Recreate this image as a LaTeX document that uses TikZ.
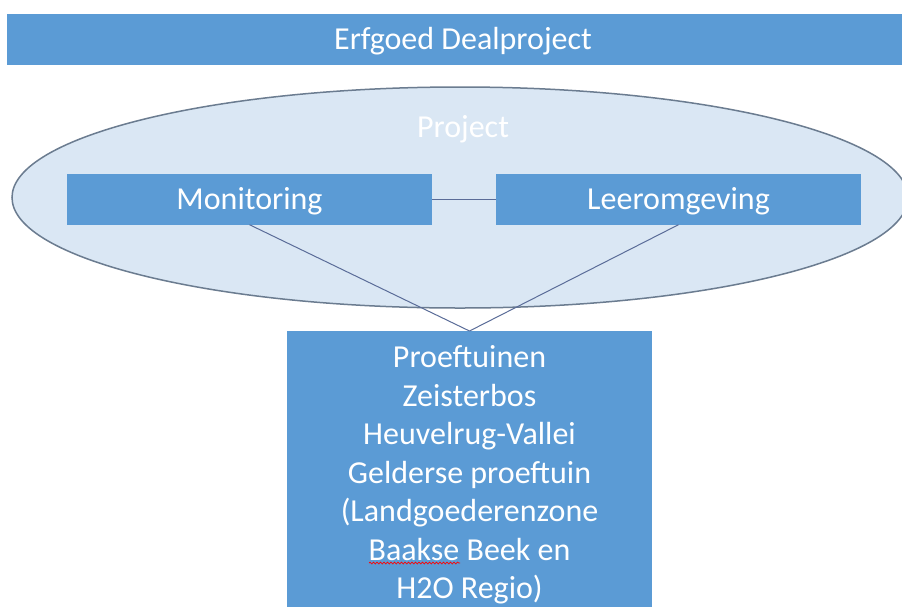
\documentclass[tikz,border=0pt]{standalone}
\usepackage{fontspec}
\setmainfont{Carlito}
\usetikzlibrary{decorations.pathmorphing}
\definecolor{boxblue}{HTML}{5B9BD5}
\definecolor{ellfill}{HTML}{DAE7F4}
\definecolor{elldraw}{HTML}{6B7C90}
\definecolor{linkcol}{HTML}{5A6C98}
\tikzset{
  bluebox/.style={fill=boxblue, draw=none, inner sep=0pt, text=white,
    font=\fontsize{32}{38.5}\selectfont, text height=20.5pt, text depth=0pt},
  link/.style={draw=linkcol, line width=1pt},
}
\begin{document}
\begin{tikzpicture}[x=1pt,y=-1pt]
\useasboundingbox (0,0) rectangle (902,606);
\clip (0,0) rectangle (902,606);
\fill[white] (0,0) rectangle (902,606);
% title bar
\node[bluebox, minimum width=912pt, minimum height=51.5pt] (title) at (463,39.25) {Erfgoed Dealproject};
% ellipse
\draw[fill=ellfill, draw=elldraw, line width=1.5pt] (460,197.5) ellipse [x radius=448, y radius=110.5];
\node[text=white, font=\fontsize{32}{38.5}\selectfont, anchor=base] (project) at (463,137) {Project};
% boxes
\node[bluebox, minimum width=365pt, minimum height=50.5pt] (mon) at (249.5,199.25) {Monitoring};
\node[bluebox, minimum width=365pt, minimum height=50.5pt] (leer) at (678.5,199.25) {Leeromgeving};
\draw[link] (mon.east) -- (leer.west);
\node[fill=boxblue, inner sep=0pt, text=white, align=center,
  font=\fontsize{32}{38.5}\selectfont,
  minimum width=365pt, minimum height=288pt, anchor=north] (proef) at (469.5,331)
  {Proeftuinen\\Zeisterbos\\Heuvelrug-Vallei\\Gelderse proeftuin\\(Landgoederenzone\\Baakse Beek en\\H2O Regio)};
\draw[link] (mon.south) -- (proef.north);
\draw[link] (leer.south) -- (proef.north);
% spelling squiggle
\draw[red, line width=0.7pt, decorate, decoration={snake, amplitude=0.9pt, segment length=3.5pt}] (369,563) -- (460,563);
\end{tikzpicture}
\end{document}
